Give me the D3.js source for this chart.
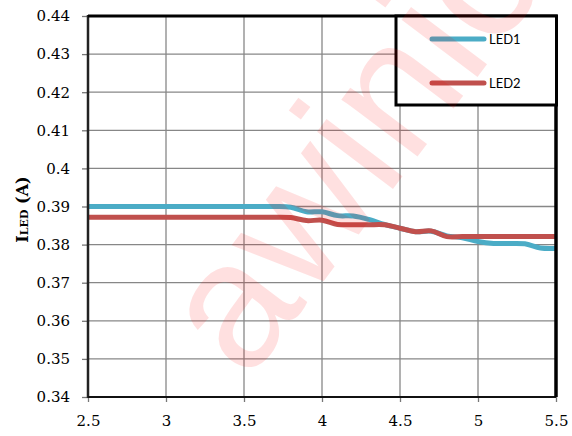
<!DOCTYPE html>
<html><head><meta charset="utf-8">
<script src="https://cdn.jsdelivr.net/npm/d3@7"></script>
<style>body{margin:0;background:#fff;}svg{display:block;}</style>
</head><body>
<script>
const voltage = [2.5,2.6,2.7,2.8,2.9,3.0,3.1,3.2,3.3,3.4,3.5,3.6,3.7,3.8,3.9,4.0,4.1,4.2,4.3,4.4,4.5,4.6,4.7,4.8,4.9,5.0,5.1,5.2,5.3,5.4,5.5];
const led1 = [0.3900,0.3900,0.3900,0.3900,0.3900,0.3900,0.3900,0.3900,0.3900,0.3900,0.3900,0.3900,0.3900,0.3898,0.3886,0.3886,0.3876,0.3875,0.3866,0.3853,0.3843,0.3834,0.3835,0.3823,0.3818,0.3808,0.3803,0.3803,0.3802,0.3791,0.3790];
const led2 = [0.3872,0.3872,0.3872,0.3872,0.3872,0.3872,0.3872,0.3872,0.3872,0.3872,0.3872,0.3872,0.3872,0.3871,0.3863,0.3864,0.3853,0.3852,0.3852,0.3852,0.3843,0.3834,0.3836,0.3821,0.3821,0.3821,0.3821,0.3821,0.3821,0.3821,0.3821];
const xTicks = [2.5,3,3.5,4,4.5,5,5.5];
const yTicks = [0.34,0.35,0.36,0.37,0.38,0.39,0.4,0.41,0.42,0.43,0.44];
const seriesNames = ["LED1","LED2"];
const seriesColors = ["#4bacc6","#c0504d"];
const watermark = "awinic";

const W=572,H=436;
const L=88,R=556,T=16,B=397;
const svg=d3.select("body").append("svg").attr("width",W).attr("height",H);
const x=d3.scaleLinear().domain([2.5,5.5]).range([L,R]);
const y=d3.scaleLinear().domain([0.34,0.44]).range([B,T]);

// grid
const g=svg.append("g");
g.selectAll("line.v").data(xTicks.slice(1,-1)).join("line")
 .attr("x1",d=>x(d)).attr("x2",d=>x(d)).attr("y1",T).attr("y2",B)
 .attr("stroke","#878787").attr("stroke-width",1.3);
g.selectAll("line.h").data(yTicks.slice(1,-1)).join("line")
 .attr("y1",d=>y(d)).attr("y2",d=>y(d)).attr("x1",L).attr("x2",R)
 .attr("stroke","#878787").attr("stroke-width",1.3);

// series
const line=d3.line().x((d,i)=>x(voltage[i])).y(d=>y(d)).curve(d3.curveCatmullRom.alpha(0.5));
[led1,led2].forEach((s,i)=>{
  svg.append("path").attr("d",line(s)).attr("fill","none")
   .attr("stroke",seriesColors[i]).attr("stroke-width",5).attr("stroke-linejoin","round");
});

// axes
const ya=d3.axisLeft(y).tickValues(yTicks).tickSize(6).tickFormat(d=>String(+d.toFixed(2)));
const yg=svg.append("g").attr("transform",`translate(${L},0)`).call(ya);
yg.select(".domain").remove();
yg.selectAll(".tick line").attr("stroke","#777").attr("stroke-width",1.3);
yg.selectAll(".tick text").attr("x",-18).attr("font-family","DejaVu Serif, serif").attr("font-size",15).attr("fill","#000");

const xa=d3.axisBottom(x).tickValues(xTicks).tickSize(5).tickFormat(d=>String(d));
const xg=svg.append("g").attr("transform",`translate(0,${B})`).call(xa);
xg.select(".domain").remove();
xg.selectAll(".tick line").attr("stroke","#777").attr("stroke-width",1.3);
xg.selectAll(".tick text").attr("y",18).attr("font-family","DejaVu Serif, serif").attr("font-size",15).attr("fill","#000");

// borders
svg.append("line").attr("x1",L).attr("x2",L).attr("y1",T-1).attr("y2",B+1).attr("stroke","#222").attr("stroke-width",2.5);
svg.append("line").attr("x1",L).attr("x2",R).attr("y1",B).attr("y2",B).attr("stroke","#111").attr("stroke-width",2);
svg.append("line").attr("x1",L).attr("x2",R+1.5).attr("y1",T).attr("y2",T).attr("stroke","#000").attr("stroke-width",3);
svg.append("line").attr("x1",R).attr("x2",R).attr("y1",T).attr("y2",B).attr("stroke","#000").attr("stroke-width",3.5);

// y title
const yt=svg.append("text").attr("transform","translate(28,209.5) rotate(-90)")
 .attr("text-anchor","middle").attr("font-family","DejaVu Serif, serif").attr("font-weight","bold").attr("fill","#000");
yt.append("tspan").attr("font-size",16).text("I");
yt.append("tspan").attr("font-size",11).text("LED");
yt.append("tspan").attr("font-size",16).text(" (A)");

// legend
const lg=svg.append("g");
lg.append("rect").attr("x",396).attr("y",16).attr("width",160.5).attr("height",89)
 .attr("fill","#fff").attr("stroke","#000").attr("stroke-width",3);
seriesNames.forEach((n,i)=>{
  const yy=39+i*44;
  lg.append("line").attr("x1",432).attr("x2",484).attr("y1",yy).attr("y2",yy)
   .attr("stroke",seriesColors[i]).attr("stroke-width",5).attr("stroke-linecap","round");
  lg.append("text").attr("x",489).attr("y",yy).attr("dy","0.36em")
   .attr("font-family","Lato, Open Sans, sans-serif").attr("font-size",13).attr("fill","#000").text(n);
});

// watermark (on top of everything, translucent)
svg.append("text").text(watermark)
 .attr("transform","translate(210,354) rotate(-53)")
 .attr("text-anchor","start").attr("dy","0.26em")
 .attr("font-family","Liberation Sans, Arial, sans-serif").attr("font-size",180)
 .attr("fill","#ff0000").attr("fill-opacity",0.12);
</script>
</body></html>
